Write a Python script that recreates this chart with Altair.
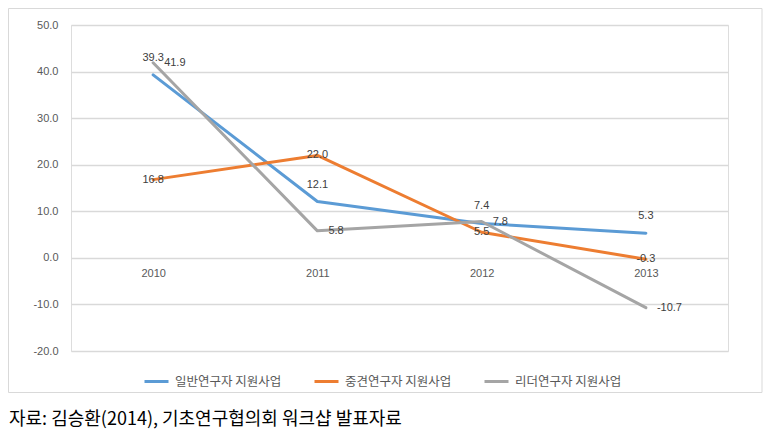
import altair as alt
import pandas as pd

years = ["2010", "2011", "2012", "2013"]
series_names = ["일반연구자 지원사업", "중견연구자 지원사업", "리더연구자 지원사업"]
general = [39.3, 12.1, 7.4, 5.3]
midcareer = [16.8, 22.0, 5.5, -0.3]
leader = [41.9, 5.8, 7.8, -10.7]
colors = ["#5B9BD5", "#ED7D31", "#A5A5A5"]
caption = "자료: 김승환(2014), 기초연구협의회 워크샵 발표자료"

rows = []
for name, vals in zip(series_names, [general, midcareer, leader]):
    for i, (y, v) in enumerate(zip(years, vals)):
        rows.append({"year": y, "series": name, "value": v})
df = pd.DataFrame(rows)

NUM_FONT = "Liberation Sans"
KR_FONT = "Noto Sans CJK KR"
FMT = "replace(format(datum.value, '.1f'), '\u2212', '-')"

x_enc = alt.X("year:N", sort=years,
              scale=alt.Scale(type="point", padding=0.5),
              axis=alt.Axis(title=None, labelAngle=0, ticks=False, domain=False,
                            offset=-93, labelPadding=9, labelFont=NUM_FONT,
                            labelFontSize=11, labelColor="#595959"))
y_enc = alt.Y("value:Q",
              scale=alt.Scale(domain=[-20, 50], nice=False, zero=False),
              axis=alt.Axis(title=None, values=[-20, -10, 0, 10, 20, 30, 40, 50],
                            labelExpr=FMT, ticks=False, domain=False, labelPadding=13,
                            gridColor="#D9D9D9", gridWidth=1.3, labelFont=NUM_FONT,
                            labelFontSize=11, labelColor="#595959"))

color_enc = alt.Color("series:N",
                      scale=alt.Scale(domain=series_names, range=colors),
                      legend=alt.Legend(title=None, orient="none", legendX=72, legendY=343,
                                        direction="horizontal", columns=3,
                                        symbolType="stroke", symbolSize=576,
                                        symbolStrokeWidth=3, labelOffset=5,
                                        columnPadding=26, labelFont=KR_FONT,
                                        labelFontSize=12.5, labelColor="#595959"))

base = alt.Chart(df).transform_calculate(label=FMT)

lines = base.mark_line(strokeWidth=3, strokeCap="round", strokeJoin="round").encode(
    x=x_enc, y=y_enc, color=color_enc, order=alt.Order("year:N")
)

lbl_style = dict(font=NUM_FONT, fontSize=11, color="#404040")

def labels(idx, **kw):
    return base.transform_filter(alt.datum.series == series_names[idx]).mark_text(
        baseline="middle", **lbl_style, **kw
    ).encode(x=alt.X("year:N", sort=years), y="value:Q", text="label:N")

lbl_general = labels(0, align="center", dy=-17)
lbl_mid = labels(1, align="center", dy=0)
lbl_leader = labels(2, align="left", dx=11)

one = pd.DataFrame({"a": [0]})

frame = alt.Chart(one).mark_rect(fillOpacity=0, stroke="#D9D9D9", strokeWidth=1).encode(
    x=alt.value(-62.5), x2=alt.value(691), y=alt.value(-16.5), y2=alt.value(367.5)
)

cap = alt.Chart(pd.DataFrame({"t": [caption]})).mark_text(
    align="left", baseline="middle", font=KR_FONT, fontSize=18, color="#000000"
).encode(x=alt.value(-62), y=alt.value(395), text="t:N")

chart = alt.layer(frame, lines, lbl_general, lbl_mid, lbl_leader, cap).properties(
    width=657, height=326,
    autosize=alt.AutoSizeParams(type="none"),
    padding={"left": 63, "top": 17, "right": 35, "bottom": 80},
).configure_view(stroke=None).configure(background="white")

chart.save("out.html", embed_options={"renderer": "svg", "actions": False})
